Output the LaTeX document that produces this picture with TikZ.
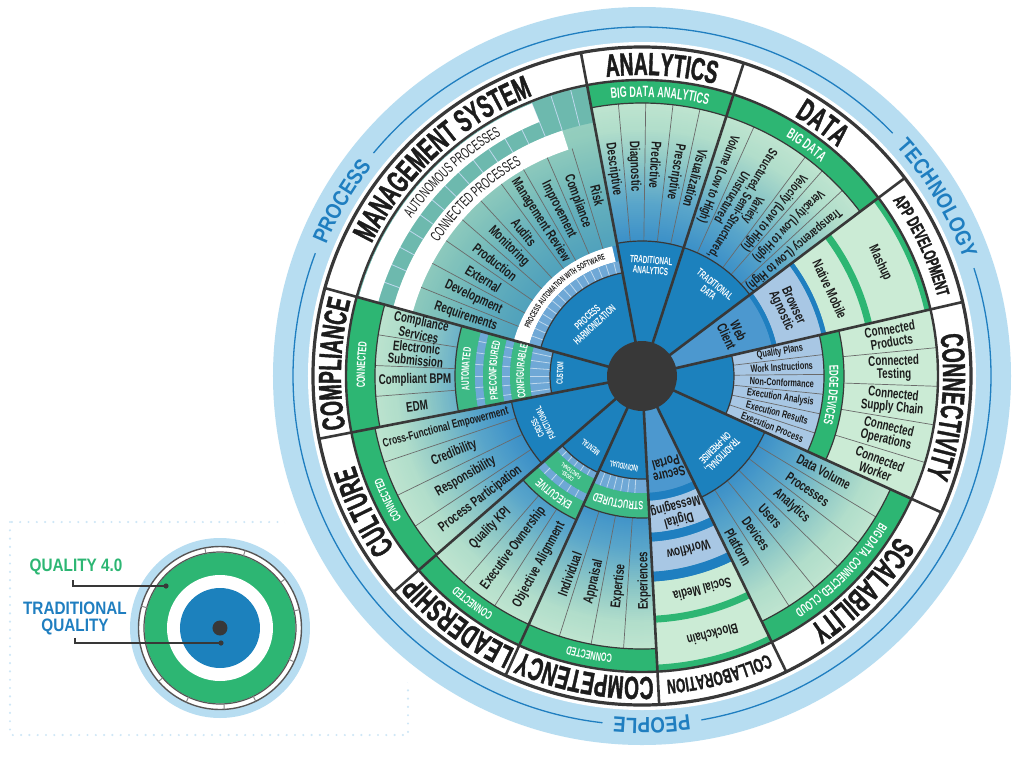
\documentclass[tikz,border=0pt]{standalone}
\usepackage{fontspec}
\setmainfont{Liberation Sans}
\newfontfamily\fa{Liberation Sans}[FakeStretch=0.6]
\newfontfamily\fe{Liberation Sans}[FakeStretch=0.6,FakeBold=1.2]
\newfontfamily\fb{Liberation Sans}[FakeStretch=0.7]
\newfontfamily\fd{Liberation Sans}[FakeStretch=0.85]
\usetikzlibrary{decorations.text}
\definecolor{halo}{HTML}{B7DDF1}
\definecolor{haloline}{HTML}{1F7EC0}
\definecolor{coreblue}{HTML}{1C81BD}
\definecolor{dark}{HTML}{383838}
\definecolor{grn}{HTML}{2DB673}
\definecolor{bgrn}{HTML}{3DB985}
\definecolor{mint}{HTML}{CBEBD5}
\definecolor{steel}{HTML}{A8C7E4}
\definecolor{stripe}{HTML}{1F7FC0}
\definecolor{txt}{HTML}{1C1C1C}
\definecolor{tealc}{HTML}{6DB9AE}
\definecolor{segc}{HTML}{6FA8D6}
\definecolor{secblue}{HTML}{4C98CF}
\definecolor{dotc}{HTML}{CFE7F6}
\definecolor{gB}{HTML}{3A8FC8}
\definecolor{gC}{HTML}{5AA6CA}
\definecolor{gD}{HTML}{8CC7C6}
\definecolor{gE}{HTML}{B2DECB}
\definecolor{gF}{HTML}{CBEBD4}
\newcommand\sband[5]{\fill[#1] (#2:#4) arc[start angle=#2,end angle=#3,radius=#4] -- (#3:#5) arc[start angle=#3,end angle=#2,radius=#5] -- cycle;}
\newcommand\carc[4]{\draw[#1] (#2:#4) arc[start angle=#2,end angle=#3,radius=#4];}
\newcommand\rlines[4]{\foreach \ang in {#2}{\draw[#1] (\ang:#3) -- (\ang:#4);}}
\newcommand\arctext[5]{\pgfmathsetmacro\aA{#1+85}\pgfmathsetmacro\aB{#1-85}%
  \path[decorate,decoration={text along path,text align=center,text color=#3,text={|#4|#5}}] (\aA:#2) arc[start angle=\aA,end angle=\aB,radius=#2];}
\begin{document}
\begin{tikzpicture}[x=1pt,y=1pt,
  spoke/.style={draw=dark,line width=2.6pt},
  edgeln/.style={draw=dark,line width=1.2pt},
  thinln/.style={draw=dark!75,line width=0.7pt},
  segln/.style={draw=white!55!segc,line width=0.8pt},
  celltxt/.style={font=\fb\bfseries\fontsize{14}{13}\selectfont,text=txt,inner sep=0pt,align=center},
  rowtxt/.style={font=\fb\bfseries\fontsize{10.5}{11}\selectfont,text=txt,inner sep=0pt,align=center},
  coretxt/.style={font=\fa\bfseries\fontsize{10.5}{10.5}\selectfont,text=white,inner sep=0pt,align=center},
  leader/.style={draw=dark,line width=1.5pt}]
\useasboundingbox (-642,-388) rectangle (382,376);
% legend frame
\draw[dotc,line width=2.4pt,line cap=round,dash pattern=on 0pt off 8.3pt] (-632,-146) rectangle (-234,-359);
\fill[white] (0,0) circle (386);
% halo
\fill[halo] (0,0) circle (369);
\fill[white] (0,0) circle (334);
\draw[haloline,line width=1.3pt] (140.3:349) arc[start angle=140.3,end angle=44.1,radius=349];
\draw[haloline,line width=1.3pt] (18:349) arc[start angle=18,end angle=-80.2,radius=349];
\draw[haloline,line width=1.3pt] (-96.5:349) arc[start angle=-96.5,end angle=-200.6,radius=349];
\arctext{149.8}{342}{haloline}{\fd\bfseries\fontsize{22}{22}\selectfont}{PROCESS}
\arctext{31}{342}{haloline}{\fd\bfseries\fontsize{22}{22}\selectfont}{TECHNOLOGY}
\arctext{-88.4}{342}{haloline}{\fd\bfseries\fontsize{22}{22}\selectfont}{PEOPLE}
% wheel base with radial gradient
\fill[white] (0,0) circle (329);
\foreach \r in {296,294,...,250}{\pgfmathtruncatemacro\pc{(\r-250)/46*100}\fill[gF!\pc!gE] (0,0) circle (\r);}
\foreach \r in {248,246,...,215}{\pgfmathtruncatemacro\pc{(\r-214)/34*100}\fill[gE!\pc!gD] (0,0) circle (\r);}
\foreach \r in {213,211,...,175}{\pgfmathtruncatemacro\pc{(\r-174)/40*100}\fill[gD!\pc!gC] (0,0) circle (\r);}
\foreach \r in {173,171,...,135}{\pgfmathtruncatemacro\pc{(\r-134)/40*100}\fill[gC!\pc!gB] (0,0) circle (\r);}
\fill[gB] (0,0) circle (133);
% ANALYTICS
\sband{grn}{72}{100.7}{273}{296}
\sband{coreblue}{72}{100.7}{35}{135}
\rlines{thinln}{77.74,83.48,89.22,94.96}{135}{273}
\carc{edgeln}{72}{100.7}{273}
\carc{edgeln}{72}{100.7}{135}
% DATA
\sband{grn}{37}{72}{273}{296}
\sband{coreblue}{37}{72}{35}{135}
\rlines{thinln}{42.8,48.7,53.3,65.8}{135}{273}
\carc{edgeln}{37}{72}{273}
\carc{edgeln}{37}{72}{135}
% APP DEVELOPMENT
\sband{mint}{13}{37}{189}{296}
\sband{grn}{13}{37}{229}{236}
\sband{grn}{13}{37}{290}{296}
\sband{stripe}{13}{37}{184}{189}
\sband{steel}{13}{37}{138}{184}
\sband{stripe}{13}{37}{133}{138}
\sband{secblue}{13}{37}{35}{133}
% CONNECTIVITY
\sband{mint}{-24.5}{13}{202}{296}
\sband{grn}{-24.5}{13}{182}{202}
\sband{steel}{-24.5}{13}{92}{182}
\sband{coreblue}{-24.5}{13}{35}{92}
\rlines{thinln}{5.5,-2,-9.5,-17}{202}{296}
\rlines{thinln}{6.75,0.5,-5.75,-12,-18.25}{92}{182}
\carc{edgeln}{-24.5}{13}{202}
\carc{edgeln}{-24.5}{13}{182}
\carc{edgeln}{-24.5}{13}{92}
% SCALABILITY
\sband{grn}{-64}{-24.5}{273}{296}
\sband{coreblue}{-64}{-24.5}{35}{135}
\rlines{thinln}{-31.08,-37.67,-44.25,-50.83,-57.42}{135}{273}
\carc{edgeln}{-64}{-24.5}{273}
\carc{edgeln}{-64}{-24.5}{135}
% COLLABORATION
\sband{secblue}{-87}{-64}{35}{117}
\sband{stripe}{-87}{-64}{117}{125}
\sband{steel}{-87}{-64}{125}{157}
\sband{stripe}{-87}{-64}{157}{166}
\sband{steel}{-87}{-64}{166}{196}
\sband{stripe}{-87}{-64}{196}{206}
\sband{mint}{-87}{-64}{206}{296}
\sband{grn}{-87}{-64}{240}{247}
\sband{grn}{-87}{-64}{289}{296}
% COMPETENCY
\sband{grn}{-114.5}{-87}{273}{296}
\sband{bgrn}{-114.5}{-87}{117}{142}
\sband{segc}{-114.5}{-87}{103}{117}
\rlines{segln}{-111,-107.5,...,-90.5}{103}{117}
\sband{coreblue}{-114.5}{-87}{35}{103}
\rlines{thinln}{-107.625,-100.75,-93.875}{142}{273}
\carc{edgeln}{-114.5}{-87}{273}
\carc{edgeln}{-114.5}{-87}{142}
\carc{edgeln}{-114.5}{-87}{103}
% LEADERSHIP
\sband{grn}{-139}{-114.5}{273}{296}
\sband{bgrn}{-139}{-114.5}{138}{158}
\sband{segc}{-139}{-114.5}{130}{138}
\sband{bgrn}{-139}{-114.5}{113}{130}
\sband{segc}{-139}{-114.5}{106}{113}
\rlines{segln}{-135,-131,...,-119}{106}{113}
\rlines{segln}{-135,-131,...,-119}{130}{138}
\sband{coreblue}{-139}{-114.5}{35}{106}
\rlines{thinln}{-130.83,-122.67}{158}{273}
\carc{edgeln}{-139}{-114.5}{273}
\carc{edgeln}{-139}{-114.5}{158}
\carc{edgeln}{-139}{-114.5}{106}
% CULTURE
\sband{grn}{-169}{-139}{272}{296}
\sband{coreblue}{-169}{-139}{35}{133}
\rlines{thinln}{-161.5,-154,-146.5}{133}{272}
\carc{edgeln}{-169}{-139}{272}
\carc{edgeln}{-169}{-139}{133}
% COMPLIANCE
\sband{grn}{164.5}{191}{267}{296}
\sband{bgrn}{164.5}{191}{167}{187}
\sband{segc}{164.5}{191}{159}{167}
\sband{bgrn}{164.5}{191}{140}{159}
\sband{segc}{164.5}{191}{132}{140}
\sband{bgrn}{164.5}{191}{112}{132}
\sband{segc}{164.5}{191}{92}{112}
\rlines{segln}{168,172,...,188}{159}{167}
\rlines{segln}{168,172,...,188}{132}{140}
\rlines{segln}{168,172,...,188}{92}{112}
\sband{coreblue}{164.5}{191}{35}{92}
\rlines{thinln}{171.125,177.75,184.375}{187}{267}
\carc{edgeln}{164.5}{191}{267}
\carc{edgeln}{164.5}{191}{187}
\carc{edgeln}{164.5}{191}{92}
% MANAGEMENT SYSTEM
\sband{tealc,opacity=0.45}{100.7}{164.5}{133}{296}
\sband{tealc}{100.7}{164.5}{258}{296}
\rlines{segln}{104,108,...,160}{258}{296}
\sband{white}{112}{164.5}{274}{294}
\sband{white}{108}{164.5}{238}{258}
\sband{white}{103}{164.5}{117}{133}
\sband{segc}{100.7}{164.5}{105}{117}
\rlines{segln}{104,108,...,160}{105}{117}
\sband{coreblue}{100.7}{164.5}{35}{105}
\rlines{thinln}{107.08,113.46,119.84,126.22,132.6,138.98,145.36,151.74,158.12}{133}{238}
\carc{edgeln}{100.7}{164.5}{105}
% center, rings and spokes
\fill[dark] (0,0) circle (35);
\draw[dark,line width=3.2pt] (0,0) circle (329);
\draw[dark,line width=2.4pt] (0,0) circle (296);
\foreach \ang in {100.7,72,37,13,-24.5,-64,-87,-114.5,-139,-169,164.5}{\draw[spoke] (\ang:34) -- (\ang:329);}
% outer labels
\arctext{86.35}{301}{txt}{\fe\bfseries\fontsize{32}{32}\selectfont}{ANALYTICS}
\arctext{54.5}{301}{txt}{\fe\bfseries\fontsize{32}{32}\selectfont}{DATA}
\arctext{25}{306}{txt}{\fe\bfseries\fontsize{18}{18}\selectfont}{APP DEVELOPMENT}
\arctext{-5.75}{301}{txt}{\fe\bfseries\fontsize{32}{32}\selectfont}{CONNECTIVITY}
\arctext{-44.25}{301}{txt}{\fe\bfseries\fontsize{32}{32}\selectfont}{SCALABILITY}
\arctext{-75.5}{305}{txt}{\fe\bfseries\fontsize{20}{20}\selectfont}{COLLABORATION}
\arctext{-100.75}{301}{txt}{\fe\bfseries\fontsize{32}{32}\selectfont}{COMPETENCY}
\arctext{-126.75}{301}{txt}{\fe\bfseries\fontsize{32}{32}\selectfont}{LEADERSHIP}
\arctext{-154}{301}{txt}{\fe\bfseries\fontsize{32}{32}\selectfont}{CULTURE}
\arctext{177.75}{301}{txt}{\fe\bfseries\fontsize{32}{32}\selectfont}{COMPLIANCE}
\arctext{132.6}{301}{txt}{\fe\bfseries\fontsize{32}{32}\selectfont}{MANAGEMENT SYSTEM}
% band labels
\arctext{86.35}{279}{white}{\fa\bfseries\fontsize{15}{15}\selectfont}{BIG DATA ANALYTICS}
\arctext{54.5}{279}{white}{\fa\bfseries\fontsize{15}{15}\selectfont}{BIG DATA}
\arctext{-44.25}{279.5}{white}{\fa\bfseries\fontsize{13}{13}\selectfont}{BIG DATA, CONNECTED, CLOUD}
\arctext{-100.75}{280}{white}{\fa\bfseries\fontsize{12}{12}\selectfont}{CONNECTED}
\arctext{-126.75}{280}{white}{\fa\bfseries\fontsize{12}{12}\selectfont}{CONNECTED}
\arctext{-154}{279.5}{white}{\fa\bfseries\fontsize{12}{12}\selectfont}{CONNECTED}
\arctext{177.75}{277}{white}{\fa\bfseries\fontsize{12}{12}\selectfont}{CONNECTED}
\arctext{-5.75}{187.5}{white}{\fa\bfseries\fontsize{13}{13}\selectfont}{EDGE DEVICES}
\arctext{-100.75}{125.5}{white}{\fa\bfseries\fontsize{12}{12}\selectfont}{STRUCTURED}
\arctext{-126.75}{144}{white}{\fa\bfseries\fontsize{12}{12}\selectfont}{EXECUTIVE}
\arctext{177.75}{173}{white}{\fa\bfseries\fontsize{11}{11}\selectfont}{AUTOMATED}
\arctext{177.75}{145.5}{white}{\fa\bfseries\fontsize{11}{11}\selectfont}{PRECONFIGURED}
\arctext{177.75}{118}{white}{\fa\bfseries\fontsize{11}{11}\selectfont}{CONFIGURABLE}
\arctext{133}{279}{txt}{\fa\fontsize{15}{15}\selectfont}{AUTONOMOUS PROCESSES}
\arctext{133.2}{243.5}{txt}{\fa\fontsize{15}{15}\selectfont}{CONNECTED PROCESSES}
\arctext{132.25}{122}{txt}{\fa\bfseries\fontsize{8.5}{8.5}\selectfont}{PROCESS AUTOMATION WITH SOFTWARE}
% core labels
\node[coretxt,rotate=-4.6] (tA) at (85.4:111) {TRADITIONAL\\ANALYTICS};
\node[coretxt,rotate=-38.6] (tD) at (51.4:112) {TRADITIONAL\\DATA};
\node[coretxt,rotate=-134.6] (tS) at (-44.6:108) {TRADITIONAL,\\ON-PREMISE};
\node[coretxt,rotate=42.8] (tP) at (132.8:75) {PROCESS\\HARMONIZATION};
\node[coretxt,rotate=116,font=\fa\bfseries\fontsize{9}{9}\selectfont] (tC) at (206:112) {CROSS-\\FUNCTIONAL};
\node[coretxt,rotate=144.2,font=\fa\bfseries\fontsize{8.5}{8.5}\selectfont] (tM) at (-125.8:88) {MENTAL};
\node[coretxt,rotate=168.6,font=\fa\bfseries\fontsize{8.5}{8.5}\selectfont] (tI) at (-101.4:92) {INDIVIDUAL};
\node[coretxt,rotate=88,font=\fa\bfseries\fontsize{9}{9}\selectfont] (tU) at (178:82) {CUSTOM};
\node[coretxt,rotate=143.25,font=\fa\bfseries\fontsize{6}{6}\selectfont] (tX) at (-126.75:121.5) {CROSS-\\FUNCTIONAL};
% ANALYTICS cells
\node[celltxt,rotate=-82.17,anchor=west] (a1) at (97.83:235) {Descriptive};
\node[celltxt,rotate=-87.91,anchor=west] (a2) at (92.09:235) {Diagnostic};
\node[celltxt,rotate=-93.65,anchor=west] (a3) at (86.35:235) {Predictive};
\node[celltxt,rotate=-99.39,anchor=west] (a4) at (80.61:235) {Prescriptive};
\node[celltxt,rotate=-105.13,anchor=west] (a5) at (74.87:235) {Visualization};
% DATA cells
\node[celltxt,font=\fb\bfseries\fontsize{13}{12.5}\selectfont,rotate=-111.1,anchor=west] (d1) at (68.9:258) {Volume (Low to High)};
\node[celltxt,font=\fb\bfseries\fontsize{13}{12.5}\selectfont,rotate=-120.45,anchor=west] (d2) at (59.55:262) {Variety\\Structured, Semi-Structured,\\Unstructured};
\node[celltxt,font=\fb\bfseries\fontsize{13}{12.5}\selectfont,rotate=-129,anchor=west] (d3) at (51:258) {Velocity (Low to High)};
\node[celltxt,font=\fb\bfseries\fontsize{13}{12.5}\selectfont,rotate=-134.25,anchor=west] (d4) at (45.75:258) {Veracity (Low to High)};
\node[celltxt,font=\fb\bfseries\fontsize{13}{12.5}\selectfont,rotate=-140.1,anchor=west] (d5) at (39.9:258) {Transparency (Low to High)};
% APP DEV cells
\node[celltxt,rotate=-65] (p1) at (25.4:263.5) {Mashup};
\node[celltxt,rotate=-65] (p2) at (24.8:207) {Native Mobile};
\node[celltxt,rotate=-65] (p3) at (25:160) {Browser\\Agnostic};
\node[celltxt,rotate=-65] (p4) at (25:100) {Web\\Client};
% CONNECTIVITY cells
\node[celltxt,rotate=9.25] (c1) at (9.25:252) {Connected\\Products};
\node[celltxt,rotate=1.75] (c2) at (1.75:252) {Connected\\Testing};
\node[celltxt,rotate=-5.75] (c3) at (-5.75:252) {Connected\\Supply Chain};
\node[celltxt,rotate=-13.25] (c4) at (-13.25:252) {Connected\\Operations};
\node[celltxt,rotate=-20.75] (c5) at (-20.75:252) {Connected\\Worker};
\node[rowtxt,rotate=9.875] (r1) at (9.875:140) {Quality Plans};
\node[rowtxt,rotate=3.625] (r2) at (3.625:140) {Work Instructions};
\node[rowtxt,rotate=-2.625] (r3) at (-2.625:140) {Non-Conformance};
\node[rowtxt,rotate=-8.875] (r4) at (-8.875:140) {Execution Analysis};
\node[rowtxt,rotate=-15.125] (r5) at (-15.125:140) {Execution Results};
\node[rowtxt,rotate=-21.375] (r6) at (-21.375:140) {Execution Process};
% SCALABILITY cells
\node[celltxt,rotate=-27.79,anchor=west] (s1) at (-27.79:176) {Data Volume};
\node[celltxt,rotate=-34.375,anchor=west] (s2) at (-34.375:176) {Processes};
\node[celltxt,rotate=-40.96,anchor=west] (s3) at (-40.96:176) {Analytics};
\node[celltxt,rotate=-47.54,anchor=west] (s4) at (-47.54:176) {Users};
\node[celltxt,rotate=-54.125,anchor=west] (s5) at (-54.125:176) {Devices};
\node[celltxt,rotate=-60.71,anchor=west] (s6) at (-60.71:176) {Platform};
% COLLABORATION cells
\node[celltxt,rotate=-165.3] (b1) at (-74.7:268) {Blockchain};
\node[celltxt,rotate=-165.3] (b2) at (-74.2:222) {Social Media};
\node[celltxt,rotate=-165.3] (b3) at (-75:180) {Workflow};
\node[celltxt,rotate=-165.3] (b4) at (-75.6:141) {Digital\\Messaging};
\node[celltxt,rotate=-165.3] (b5) at (-74.5:96) {Secure\\Portal};
% COMPETENCY cells
\node[celltxt,rotate=69.94,anchor=west] (m1) at (-110.06:234) {Individual};
\node[celltxt,rotate=76.81,anchor=west] (m2) at (-103.19:234) {Appraisal};
\node[celltxt,rotate=83.69,anchor=west] (m3) at (-96.31:234) {Expertise};
\node[celltxt,rotate=90.56,anchor=west] (m4) at (-89.44:234) {Experiences};
% LEADERSHIP cells
\node[celltxt,rotate=45.08] (l1) at (-134.92:215) {Quality KPI};
\node[celltxt,rotate=53.25] (l2) at (-126.75:215) {Executive Ownership};
\node[celltxt,rotate=61.42] (l3) at (-118.58:215) {Objective Alignment};
% CULTURE cells
\node[celltxt,font=\fb\bfseries\fontsize{12}{12}\selectfont,rotate=14.75] (u1) at (194.75:203) {Cross-Functional Empowerment};
\node[celltxt,rotate=22.25] (u2) at (202.25:203) {Credibility};
\node[celltxt,rotate=29.75] (u3) at (209.75:203) {Responsibility};
\node[celltxt,rotate=37.25] (u4) at (217.25:203) {Process Participation};
% COMPLIANCE cells
\node[celltxt,rotate=-12.2] (o1) at (167.8:227) {Compliance\\Services};
\node[celltxt,rotate=-5.6] (o2) at (174.4:227) {Electronic\\Submission};
\node[celltxt,rotate=1] (o3) at (181:227) {Compliant BPM};
\node[celltxt,rotate=7.6] (o4) at (187.6:227) {EDM};
% MANAGEMENT SYSTEM cells
\node[celltxt,rotate=-18.69] (g1) at (161.31:186) {Requirements};
\node[celltxt,rotate=-25.07] (g2) at (154.93:186) {Development};
\node[celltxt,rotate=-31.45] (g3) at (148.55:186) {External};
\node[celltxt,rotate=-37.83] (g4) at (142.17:186) {Production};
\node[celltxt,rotate=-44.21] (g5) at (135.79:186) {Monitoring};
\node[celltxt,rotate=-50.59] (g6) at (129.41:186) {Audits};
\node[celltxt,rotate=-56.97] (g7) at (123.03:186) {Management Review};
\node[celltxt,rotate=-63.35] (g8) at (116.65:186) {Improvement};
\node[celltxt,rotate=-69.73] (g9) at (110.27:186) {Compliance};
\node[celltxt,rotate=-76.11] (g10) at (103.89:186) {Risk};
% legend
\begin{scope}[shift={(-422,-252)}]
\fill[halo] (0,0) circle (90);
\fill[white] (0,0) circle (82);
\fill[grn] (0,0) circle (75.5);
\fill[white] (0,0) circle (53);
\fill[coreblue] (0,0) circle (40);
\fill[dark] (0,0) circle (7.5);
\draw[dark!85,line width=1.4pt] (0,0) circle (81.5);
\draw[dark!85,line width=1.2pt] (0,0) circle (76);
\foreach \ang in {100.7,72,37,13,-24.5,-64,-87,-114.5,-139,-169,164.5}{\draw[dark!60,line width=1pt] (\ang:76) -- (\ang:81.5);}
\end{scope}
\node[font=\fd\bfseries\fontsize{18}{17}\selectfont,text=grn,inner sep=0pt] (q40) at (-566,-191) {QUALITY 4.0};
\node[font=\fd\bfseries\fontsize{18}{17}\selectfont,text=haloline,inner sep=0pt,align=center] (tq) at (-567,-242) {TRADITIONAL\\QUALITY};
\coordinate (q40d) at (-476,-210);
\coordinate (tqd) at (-421,-267);
\draw[leader] ([shift={(-3,-5)}]q40.south) |- (q40d);
\draw[leader] ([shift={(0,-3)}]tq.south) |- (tqd);
\fill[dark] (q40d) circle (2.6);
\fill[dark] (tqd) circle (2.6);
\end{tikzpicture}
\end{document}
